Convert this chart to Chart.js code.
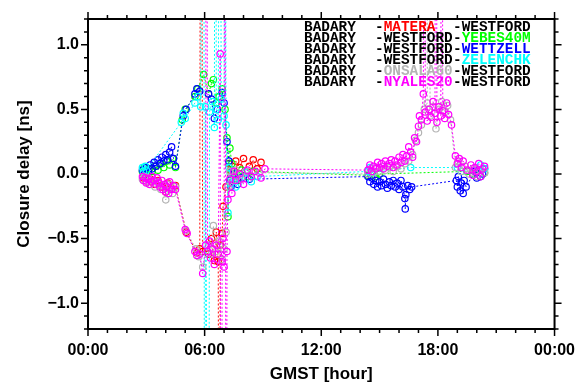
<!DOCTYPE html>
<html>
<head>
<meta charset="utf-8">
<script src="https://cdn.jsdelivr.net/npm/chart.js@4"></script>
<style>
  html, body { margin: 0; padding: 0; background: #fff; }
</style>
</head>
<body>
<canvas id="closureChart" width="587" height="385"></canvas>
<script>
// closure delays, [GMST hour, delay ns]; +-5 are off-scale outliers
const matera = [[2.85,-0.03],[3.0,-0.06],[3.2,-0.04],[3.4,-0.08],[3.6,-0.05],[3.8,-0.1],[4.0,-0.14],[4.1,-0.07],[4.3,-0.11],[4.5,-0.09],
  [5.05,-0.45],[5.6,-0.61],[5.75,-0.58],[5.8,5],[5.9,-0.6],[6.2,-0.62],[6.35,-0.5],[6.5,-0.67],[6.6,-0.45],[6.7,-0.68],[6.75,-5],
  [6.8,-0.55],[6.9,-0.46],[6.95,-0.25],[7.1,-0.1],[7.25,0.08],[7.4,0.02],[7.6,0.1],[7.8,0.05],[8.0,0.12],[8.3,0.06],[8.5,0.11],[8.7,0.04],[8.9,0.09]];

const yebes = [[2.8,0.02],[2.9,0.05],[3.0,0.0],[3.15,0.04],[3.3,0.02],[3.45,0.06],[3.6,0.03],[3.75,0.08],[3.9,0.05],[4.05,0.1],[4.2,0.07],[4.35,0.12],[4.5,0.05],
  [4.85,0.42],[5.0,0.5],[5.5,0.6],[5.65,0.66],[5.95,0.77],[6.2,0.62],[6.35,0.7],[6.45,0.73],[6.6,0.55],[6.75,0.6],[6.9,0.66],[7.05,0.5],[7.15,0.28],
  [7.2,-0.33],[7.3,0.2],[7.4,0.08],[7.55,0.0],[7.7,-0.05],[7.9,0.03],[8.2,-0.02],[8.5,0.02],
  [14.4,-0.01],[14.6,0.01],[14.8,-0.02],[15.0,0.0],[19.5,0.02],[19.8,0.0],[20.1,0.03],[20.4,0.01]];

const wettzell = [[2.8,0.03],[2.9,0.0],[3.0,0.05],[3.1,0.02],[3.2,0.07],[3.3,0.04],[3.4,0.09],[3.5,0.06],[3.6,0.11],[3.7,0.08],[3.8,0.13],[3.9,0.1],
  [4.0,0.15],[4.1,0.11],[4.2,0.17],[4.3,0.21],[4.4,0.12],[4.5,0.06],[4.9,0.45],[5.05,0.5],[5.5,0.62],[5.6,0.66],[5.75,0.64],[6.2,0.62],[6.35,0.58],
  [6.5,0.43],[6.65,0.5],[6.9,0.63],[7.0,0.55],[7.15,0.25],[7.25,0.1],[7.3,-0.05],[7.35,-0.1],[7.5,0.0],[7.7,-0.08],[7.9,-0.03],[8.1,0.02],[8.3,-0.04],
  [14.4,-0.02],[14.5,-0.06],[14.6,-0.03],[14.7,-0.08],[14.8,-0.05],[14.9,-0.1],[15.0,-0.06],[15.1,-0.09],[15.2,-0.04],[15.3,-0.08],[15.4,-0.11],
  [15.5,-0.06],[15.6,-0.09],[15.7,-0.05],[15.8,-0.1],[15.9,-0.07],[16.0,-0.12],[16.1,-0.05],[16.2,-0.1],[16.3,-0.19],[16.32,-0.27],[16.35,-0.16],
  [16.45,-0.09],[16.55,-0.12],[16.65,-0.1],[18.95,-0.05],[19.0,-0.1],[19.05,-0.02],[19.15,-0.13],[19.2,-0.07],[19.3,-0.15],[19.35,-0.05],[19.45,-0.1],
  [19.9,0.02],[20.0,-0.03],[20.1,0.03],[20.2,-0.02],[20.3,0.0],[20.4,0.04]];

const zelenchk = [[2.8,0.05],[2.85,0.02],[2.95,0.06],[3.0,0.03],[4.8,0.4],[4.9,0.47],[5.0,0.43],[5.5,0.55],[5.65,0.6],[5.8,0.52],[5.95,5],[6.0,-5],
  [6.05,0.52],[6.2,-5],[6.25,0.48],[6.4,0.56],[6.5,0.36],[6.55,5],[6.6,0.5],[6.7,0.42],[6.8,5],[6.85,0.58],[7.0,0.45],[7.05,5],[7.1,0.38],
  [7.2,-0.3],[7.25,0.05],[7.35,-0.07],[7.45,0.02],[7.6,-0.1],[7.8,-0.04],[8.1,0.01],[8.4,-0.06],[8.7,-0.02],
  [14.4,0.02],[14.5,0.05],[14.6,0.01],[16.6,0.05],[19.0,0.05],[19.2,0.02],[20.2,0.07],[20.4,0.04]];

const onsala = [[2.8,-0.04],[2.9,-0.02],[3.0,-0.06],[3.1,-0.03],[3.2,-0.08],[3.35,-0.05],[3.45,-0.1],[3.6,-0.06],[3.75,-0.12],[3.9,-0.09],[4.0,-0.2],
  [4.1,-0.13],[4.2,-0.08],[4.35,-0.15],[4.5,-0.1],[5.05,-0.44],[5.55,-0.58],[5.7,-0.64],[5.9,-0.72],[6.2,-0.55],[6.35,-0.62],[6.45,-0.4],[6.6,-0.6],
  [6.75,-0.52],[6.9,-0.66],[7.0,-0.58],[7.1,-0.45],[7.2,-0.1],[7.3,0.02],[7.45,-0.05],[7.6,0.03],[7.9,-0.04],[8.1,0.02],[8.4,-0.02],[8.8,0.01],
  [14.4,0.0],[14.55,0.04],[14.7,0.01],[14.85,0.05],[15.0,0.02],[15.15,0.06],[15.3,0.03],[15.5,0.05],[15.7,0.02],[15.9,0.06],[16.1,0.04],[16.3,0.08],
  [16.5,0.1],[16.7,0.15],[16.85,0.26],[17.0,0.32],[17.15,0.38],[17.3,0.5],[17.45,0.55],[17.5,5],[17.6,0.45],[17.75,0.52],[17.9,0.35],[18.05,0.5],
  [18.2,0.56],[18.35,0.48],[18.5,0.53],[18.65,0.42],[18.9,0.05],[19.05,0.1],[19.2,0.02],[19.4,0.06],[19.6,0.0],[19.8,0.04],[20.0,-0.02],[20.2,0.03],[20.4,0.01]];

const nyales = [[2.8,-0.02],[2.85,-0.05],[2.95,-0.03],[3.0,-0.07],[3.1,-0.04],[3.15,-0.08],[3.25,-0.06],[3.3,-0.02],[3.4,-0.05],[3.5,-0.08],[3.55,-0.03],
  [3.65,-0.07],[3.7,-0.1],[3.8,-0.05],[3.85,-0.12],[3.95,-0.08],[4.0,-0.14],[4.05,-0.1],[4.15,-0.15],[4.2,-0.06],[4.3,-0.12],[4.4,-0.09],[4.5,-0.12],
  [5.0,-0.43],[5.1,-0.46],[5.5,-0.6],[5.6,-0.63],[5.75,-0.62],[5.9,-0.77],[6.05,-0.55],[6.1,5],[6.15,-0.6],[6.25,-0.52],[6.3,-0.65],[6.4,-0.58],
  [6.5,-0.7],[6.6,-0.55],[6.7,-0.62],[6.8,0.93],[6.85,-5],[6.9,-0.68],[6.95,-0.5],[7.0,-0.72],[7.05,5],[7.1,-5],[7.15,-0.6],[7.2,-0.2],[7.3,-0.04],
  [7.4,-0.15],[7.5,0.02],[7.6,-0.05],[7.8,0.0],[8.0,-0.08],[8.2,0.03],[8.4,-0.02],[8.6,0.02],[8.9,-0.03],[9.1,0.04],
  [14.4,0.03],[14.5,0.07],[14.6,0.02],[14.7,0.06],[14.8,0.04],[14.9,0.09],[15.0,0.05],[15.1,0.08],[15.2,0.04],[15.3,0.1],[15.4,0.06],[15.5,0.08],
  [15.6,0.11],[15.7,0.05],[15.8,0.1],[15.9,0.07],[16.0,0.13],[16.1,0.09],[16.2,0.15],[16.3,0.1],[16.4,0.14],[16.5,0.21],[16.6,0.17],[16.7,0.13],
  [16.8,0.28],[16.9,0.25],[17.0,0.37],[17.05,0.45],[17.15,0.42],[17.25,0.62],[17.3,5],[17.35,0.48],[17.45,0.41],[17.55,0.5],[17.65,0.44],[17.75,0.56],
  [17.85,0.47],[17.9,5],[17.95,0.4],[18.05,0.52],[18.15,0.45],[18.2,5],[18.25,0.49],[18.35,0.43],[18.45,0.55],[18.55,0.46],[18.7,0.38],[18.9,0.14],
  [19.0,0.08],[19.1,0.12],[19.2,0.05],[19.3,0.1],[19.5,0.03],[19.7,0.07],[19.8,-0.01],[19.9,0.05],[20.0,0.02],[20.1,0.08],[20.2,-0.02],[20.3,0.04],[20.4,0.06]];

const seriesData = [matera, yebes, wettzell, zelenchk, onsala, nyales];
const seriesColors = ['#ff0000', '#00ff00', '#0000ff', '#00ffff', '#b4b4b4', '#ff00ff'];
const baseStation = 'BADARY';
const midStation = ['MATERA', 'WESTFORD', 'WESTFORD', 'WESTFORD', 'ONSALA60', 'NYALES20'];
const endStation = ['WESTFORD', 'YEBES40M', 'WETTZELL', 'ZELENCHK', 'WESTFORD', 'WESTFORD'];
const xTickLabels = ['00:00', '06:00', '12:00', '18:00', '00:00'];

const datasets = seriesData.map((pts, i) => ({
  label: midStation[i] + '-' + endStation[i],
  data: pts.map(p => ({ x: p[0], y: p[1] })),
  borderColor: seriesColors[i],
  borderWidth: 1,
  borderDash: [2, 2],
  pointStyle: 'circle',
  pointRadius: 3.2,
  pointBorderWidth: 1.2,
  pointBorderColor: seriesColors[i],
  pointBackgroundColor: 'rgba(0,0,0,0)',
  order: seriesData.length - i,
  tension: 0
}));

// triangle names written inside the plot, like the original
const tripleLegend = {
  id: 'tripleLegend',
  afterDatasetsDraw(chart) {
    const ctx = chart.ctx;
    ctx.save();
    ctx.font = 'bold 14.4px "Liberation Mono"';
    ctx.textBaseline = 'middle';
    ctx.textAlign = 'left';
    for (let i = 0; i < seriesColors.length; i++) {
      const yc = 27 + i * 11;
      ctx.fillStyle = '#000';
      ctx.fillText(baseStation, 304, yc);
      ctx.fillText('-', 375, yc);
      ctx.fillText('-', 453, yc);
      const dw = ctx.measureText('-').width;
      ctx.fillStyle = (i === 0 || i >= 4) ? seriesColors[i] : '#000';
      ctx.fillText(midStation[i], 375 + dw, yc);
      ctx.fillStyle = (i >= 1 && i <= 3) ? seriesColors[i] : '#000';
      ctx.fillText(endStation[i], 453 + dw, yc);
    }
    ctx.restore();
  }
};

// frame and outward major/minor ticks on all four sides
const frameTicks = {
  id: 'frameTicks',
  afterDraw(chart) {
    const { ctx, chartArea: a, scales: { x, y } } = chart;
    ctx.save();
    ctx.strokeStyle = '#000';
    ctx.lineWidth = 1.5;
    ctx.beginPath();
    for (let h = 0; h <= 24; h++) {
      const px = x.getPixelForValue(h);
      const len = h % 6 === 0 ? 7 : 4;
      ctx.moveTo(px, a.bottom); ctx.lineTo(px, a.bottom + len);
      ctx.moveTo(px, a.top); ctx.lineTo(px, a.top - len);
    }
    for (let k = -12; k <= 12; k++) {
      const py = y.getPixelForValue(k / 10);
      const len = k % 5 === 0 ? 7 : 4;
      ctx.moveTo(a.left, py); ctx.lineTo(a.left - len, py);
      ctx.moveTo(a.right, py); ctx.lineTo(a.right + len, py);
    }
    ctx.stroke();
    ctx.lineWidth = 2;
    ctx.strokeRect(a.left, a.top, a.right - a.left, a.bottom - a.top);
    ctx.restore();
  }
};

const ctx = document.getElementById('closureChart').getContext('2d');
new Chart(ctx, {
  type: 'line',
  data: { datasets: datasets },
  options: {
    responsive: false,
    animation: false,
    layout: { padding: { top: 19, right: 19, left: 0, bottom: 0 } },
    plugins: { legend: { display: false }, tooltip: { enabled: false } },
    scales: {
      x: {
        type: 'linear',
        min: 0,
        max: 24,
        grid: { display: false, drawTicks: false },
        border: { display: false },
        ticks: {
          stepSize: 6,
          padding: 12,
          color: '#000',
          font: { family: 'Liberation Sans', size: 16, weight: 'bold' },
          callback: (v) => xTickLabels[Math.round(v / 6)]
        },
        title: {
          display: true,
          text: 'GMST [hour]',
          color: '#000',
          font: { family: 'Liberation Sans', size: 17, weight: 'bold' },
          padding: { top: 0, bottom: 0 }
        },
        afterFit: (scale) => { scale.height = 56; }
      },
      y: {
        type: 'linear',
        min: -1.2,
        max: 1.2,
        grid: { display: false, drawTicks: false },
        border: { display: false },
        ticks: {
          stepSize: 0.5,
          includeBounds: false,
          padding: 9,
          color: '#000',
          font: { family: 'Liberation Sans', size: 16, weight: 'bold' },
          callback: (v) => (v < 0 ? '\u2212' : '') + Math.abs(v).toFixed(1)
        },
        title: {
          display: true,
          text: 'Closure delay [ns]',
          color: '#000',
          font: { family: 'Liberation Sans', size: 17, weight: 'bold' },
          padding: { top: 14, bottom: 0 }
        },
        afterFit: (scale) => { scale.width = 88; }
      }
    }
  },
  plugins: [tripleLegend, frameTicks]
});
</script>
</body>
</html>
